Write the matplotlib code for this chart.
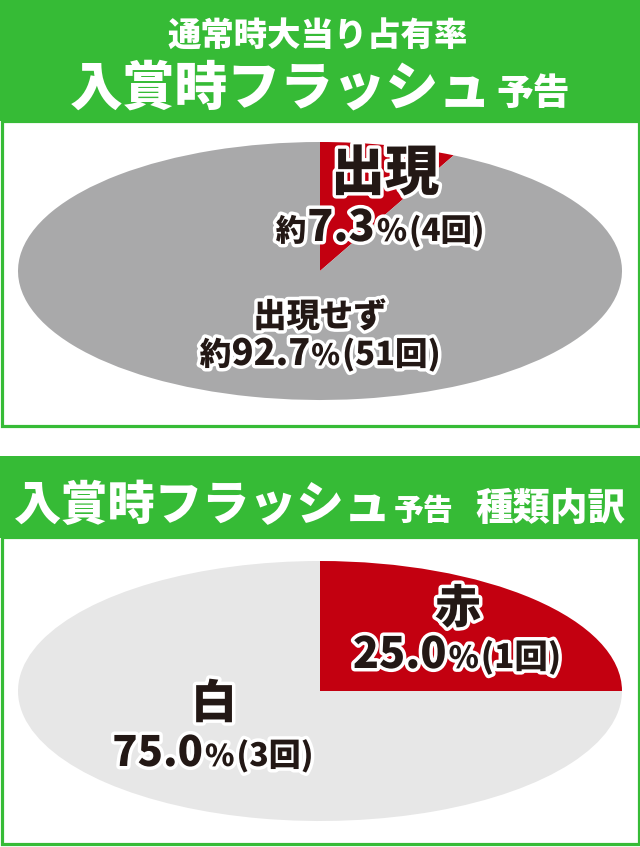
import matplotlib
matplotlib.use("Agg")
import matplotlib.pyplot as plt
from matplotlib.patches import Rectangle
import matplotlib.patheffects as pe

plt.rcParams['font.family'] = ['Noto Sans CJK JP', 'DejaVu Sans']

# ---- data ----
top_title_1 = "通常時大当り占有率"
top_title_2 = "入賞時フラッシュ"
title_suffix = "予告"
bottom_title_extra = "種類内訳"

top_labels = ["出現", "出現せず"]
top_pct = [7.3, 92.7]
top_counts = [4, 51]

bottom_labels = ["赤", "白"]
bottom_pct = [25.0, 75.0]
bottom_counts = [1, 3]

# ---- style ----
GREEN = "#36bb36"
RED = "#c30010"
GRAY = "#a9a9aa"
LIGHT = "#e7e7e7"
INK = "#231815"
WEIGHT = "black"

W, H = 640, 847
fig = plt.figure(figsize=(W / 100, H / 100), dpi=100)
fig.patch.set_facecolor("white")

# background axes in pixel coordinates
bg = fig.add_axes([0, 0, 1, 1], zorder=0)
bg.set_xlim(0, W)
bg.set_ylim(H, 0)
bg.axis("off")

bg.add_patch(Rectangle((0, 0), W, 121, facecolor=GREEN, edgecolor="none"))
bg.add_patch(Rectangle((1.5, 121), W - 3, 305, facecolor="white", edgecolor=GREEN, linewidth=2.3))
bg.add_patch(Rectangle((0, 456), W, 82, facecolor=GREEN, edgecolor="none"))
bg.add_patch(Rectangle((1.5, 537), W - 3, 307, facecolor="white", edgecolor=GREEN, linewidth=2.3))


def pie_axes(top_px, bottom_px, left_px=18, right_px=622):
    ax = fig.add_axes([left_px / W, 1 - bottom_px / H,
                       (right_px - left_px) / W, (bottom_px - top_px) / H], zorder=1)
    return ax


ax1 = pie_axes(142, 400)
ax1.pie(top_pct, colors=[RED, GRAY], startangle=90, counterclock=False,
        radius=1, wedgeprops=dict(linewidth=0))
ax1.set_xlim(-1, 1)
ax1.set_ylim(-1, 1)
ax1.set_aspect("auto")
ax1.axis("off")

ax2 = pie_axes(561, 821)
ax2.pie(bottom_pct, colors=[RED, LIGHT], startangle=90, counterclock=False,
        radius=1, wedgeprops=dict(linewidth=0))
ax2.set_xlim(-1, 1)
ax2.set_ylim(-1, 1)
ax2.set_aspect("auto")
ax2.axis("off")

# overlay axes for text
tx = fig.add_axes([0, 0, 1, 1], zorder=2)
tx.set_xlim(0, W)
tx.set_ylim(H, 0)
tx.axis("off")
tx.patch.set_alpha(0)

renderer = fig.canvas.get_renderer()


def rich(xc, yb, pieces, color=INK, stroke=True):
    items = []
    for p in pieces:
        if isinstance(p, (int, float)):
            items.append(("gap", p))
            continue
        s, size = p
        kw = dict(fontsize=size, fontweight=WEIGHT, color=color,
                  ha="left", va="baseline")
        if stroke:
            kw["path_effects"] = [pe.withStroke(linewidth=5, foreground="white")]
        t = tx.text(0, yb, s, **kw)
        items.append(("t", t))
    widths = []
    for kind, obj in items:
        if kind == "gap":
            widths.append(obj)
        else:
            widths.append(obj.get_window_extent(renderer).width)
    x = xc - sum(widths) / 2
    for (kind, obj), w in zip(items, widths):
        if kind == "t":
            obj.set_x(x)
        x += w


# headers
rich(318, 46, [(top_title_1, 24)], color="white", stroke=False)
rich(320, 105, [(top_title_2, 38), 5, (title_suffix, 26.5)], color="white", stroke=False)
rich(320, 520, [(top_title_2, 34), 2, (title_suffix, 21.5), 22, (bottom_title_extra, 27)],
     color="white", stroke=False)

# top pie labels
rich(385, 190, [(top_labels[0], 39)])
rich(380, 241, [("約", 22), 1, (f"{top_pct[0]}", 31), 2, ("%", 22), 2,
                (f"({top_counts[0]}回)", 22.5)])
rich(320, 327, [(top_labels[1], 24)])
rich(320, 365, [("約", 23), (f"{top_pct[1]}", 26), 1, ("%", 21), 2,
                (f"({top_counts[1]}回)", 23.5)])

# bottom pie labels
rich(458, 623, [(bottom_labels[0], 33)])
rich(457, 668, [(f"{bottom_pct[0]:.1f}", 31), 2, ("%", 22), 2,
                (f"({bottom_counts[0]}回)", 24)])
rich(214, 718, [(bottom_labels[1], 33)])
rich(213, 766, [(f"{bottom_pct[1]:.1f}", 30), 2, ("%", 21.5), 2,
                (f"({bottom_counts[1]}回)", 23)])

fig.savefig("out.png", dpi=100)
